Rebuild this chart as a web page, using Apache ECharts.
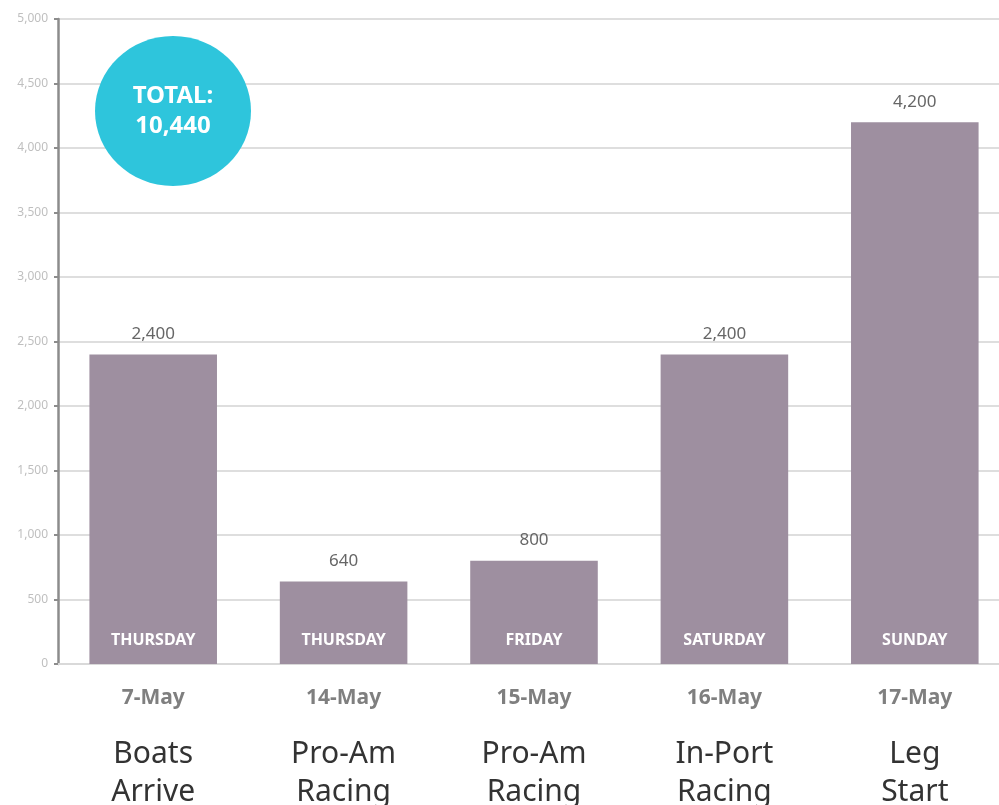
<!DOCTYPE html>
<html>
<head>
<meta charset="utf-8">
<script src="https://cdn.jsdelivr.net/npm/echarts@6/dist/echarts.min.js"></script>
<style>
  html, body { margin: 0; padding: 0; background: #fff; }
  #chart { width: 999px; height: 805px; }
</style>
</head>
<body>
<div id="chart"></div>
<script>
const dates = ["7-May", "14-May", "15-May", "16-May", "17-May"];
const days = ["THURSDAY", "THURSDAY", "FRIDAY", "SATURDAY", "SUNDAY"];
const events = [["Boats", "Arrive"], ["Pro-Am", "Racing"], ["Pro-Am", "Racing"], ["In-Port", "Racing"], ["Leg", "Start"]];
const visitors = [2400, 640, 800, 2400, 4200];
const yTicks = [0, 500, 1000, 1500, 2000, 2500, 3000, 3500, 4000, 4500, 5000];

const font = "'Noto Sans', sans-serif";
const fmt = (v) => Number(v).toLocaleString("en-US");
const total = visitors.reduce((a, b) => a + b, 0);

const chart = echarts.init(document.getElementById("chart"));

chart.setOption({
  backgroundColor: "#ffffff",
  animation: false,
  textStyle: { fontFamily: font },
  // plot area runs a little past the right edge of the window, as in the original
  grid: { left: 58, width: 952, top: 19, bottom: 141, outerBoundsMode: "none", containLabel: false },
  xAxis: {
    type: "category",
    data: dates,
    axisLine: { lineStyle: { color: "#d9d9d9", width: 2 } },
    axisTick: { show: false },
    axisLabel: {
      margin: 19,
      interval: 0,
      formatter: (v, i) => `{d|${v}}\n{g| }\n{n|${events[i][0]}}\n{n|${events[i][1]}}`,
      rich: {
        d: { fontSize: 21, fontWeight: "bold", color: "#7f7f7f", lineHeight: 30, fontFamily: font },
        g: { fontSize: 1, lineHeight: 22 },
        n: { fontSize: 30, color: "#333333", lineHeight: 38, fontFamily: font }
      }
    }
  },
  yAxis: {
    type: "value",
    min: yTicks[0],
    max: yTicks[yTicks.length - 1],
    interval: 500,
    axisLine: { show: true, lineStyle: { color: "#8c8c8c", width: 2.5 } },
    axisTick: { show: true, length: 4, lineStyle: { color: "#8c8c8c", width: 2 } },
    axisLabel: { color: "#bfbfbf", fontSize: 12, margin: 10, formatter: (v) => fmt(v) },
    splitLine: { lineStyle: { color: "#dedede", width: 2 } }
  },
  series: [
    {
      type: "bar",
      data: visitors,
      barCategoryGap: "33%",
      itemStyle: { color: "#9e8fa0" },
      label: {
        show: true,
        position: "top",
        distance: 12,
        color: "#666666",
        fontSize: 17,
        formatter: (p) => fmt(p.value)
      }
    },
    {
      type: "bar",
      data: visitors,
      barGap: "-100%",
      barCategoryGap: "33%",
      itemStyle: { color: "rgba(0,0,0,0)" },
      silent: true,
      label: {
        show: true,
        position: "insideBottom",
        distance: 16,
        color: "#ffffff",
        fontSize: 16,
        fontWeight: "bold",
        formatter: (p) => days[p.dataIndex]
      }
    }
  ],
  graphic: [
    {
      type: "ellipse",
      shape: { cx: 173, cy: 111, rx: 78, ry: 75 },
      style: { fill: "#2ec5dc" },
      z: 10
    },
    {
      type: "text",
      x: 173,
      y: 111,
      z: 11,
      style: {
        text: "TOTAL:\n" + fmt(total),
        fill: "#ffffff",
        font: "bold 24px " + font,
        align: "center",
        verticalAlign: "middle",
        lineHeight: 30
      }
    }
  ]
});
</script>
</body>
</html>
